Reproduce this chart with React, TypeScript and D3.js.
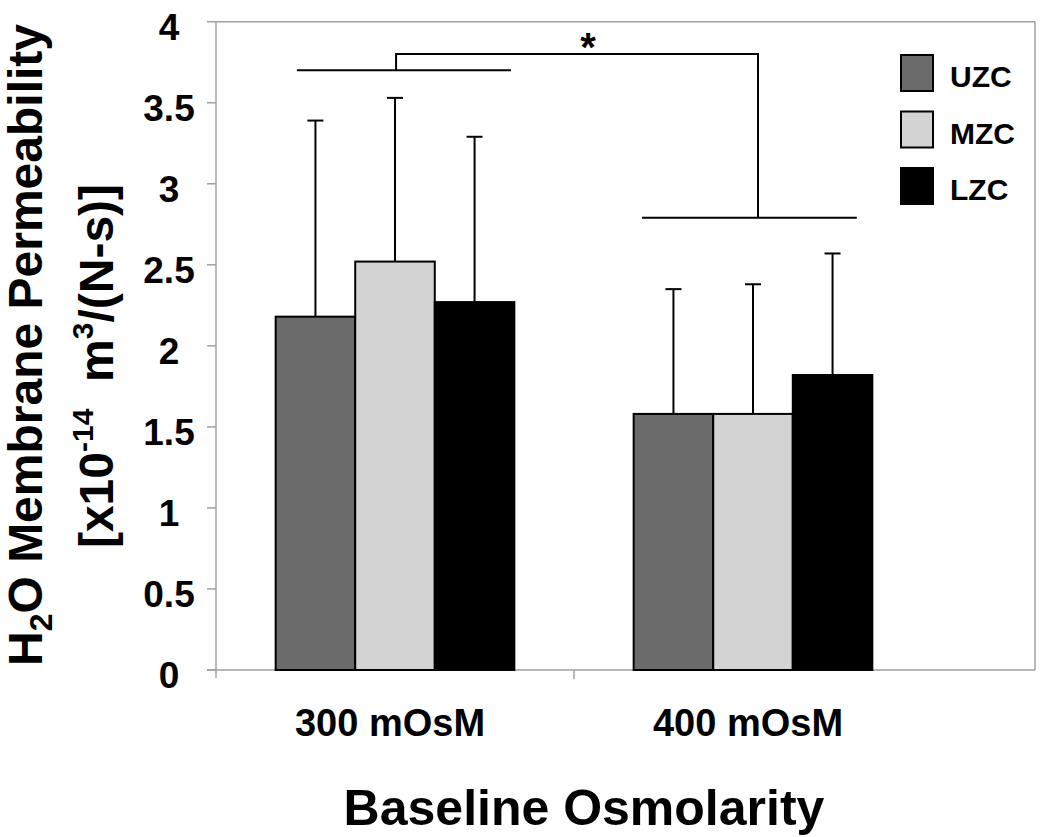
import React from 'react';
import * as d3 from 'd3';

// chart values
const categories = ['300 mOsM', '400 mOsM'];
const seriesNames = ['UZC', 'MZC', 'LZC'];
const seriesColors = ['#6b6b6b', '#d3d3d3', '#000000'];
const uzcMeans = [2.18, 1.58];
const mzcMeans = [2.52, 1.58];
const lzcMeans = [2.27, 1.82];
const uzcErr = [1.21, 0.77];
const mzcErr = [1.01, 0.8];
const lzcErr = [1.02, 0.75];
const yTicks = [0, 0.5, 1, 1.5, 2, 2.5, 3, 3.5, 4];
const yTickLabels = ['0', '0.5', '1', '1.5', '2', '2.5', '3', '3.5', '4'];
// significance bracket levels (data units)
const groupBarLevels = [3.7, 2.79];
const bracketTop = 3.8;

const means = [uzcMeans, mzcMeans, lzcMeans];
const errs = [uzcErr, mzcErr, lzcErr];

const W = 1050;
const H = 837;
const left = 216;
const right = 1035;
const top = 21.7;
const bottom = 670;
const font = '"Liberation Sans", Arial, sans-serif';
const axisGray = '#a0a0a0';

export default function App() {
  const y = d3.scaleLinear().domain([0, 4]).range([bottom, top]);
  const x0 = d3.scaleBand().domain(categories).range([left, 932]);
  const x1 = d3.scaleBand().domain(seriesNames).range([0, x0.bandwidth()]).paddingOuter(0.75);

  const bw = x0.bandwidth();
  // bracket x extents as fraction of each category band
  const lineSpan = [[0.226, 0.824], [0.19, 0.79]];
  const joinAt = [0.503, 0.514];
  const lx = (ci: number, f: number) => (x0(categories[ci]) as number) + f * bw;

  const bracketPath = d3.line()([
    [lx(0, joinAt[0]), y(groupBarLevels[0])],
    [lx(0, joinAt[0]), y(bracketTop)],
    [lx(1, joinAt[1]), y(bracketTop)],
    [lx(1, joinAt[1]), y(groupBarLevels[1])],
  ]) as string;

  return (
    <svg width={W} height={H} style={{ position: 'absolute', left: 0, top: 0, background: '#fff' }} fontFamily={font}>
      {/* frame */}
      <line x1={left} x2={right} y1={top} y2={top} stroke={axisGray} strokeWidth={1.5} />
      <line x1={right} x2={right} y1={top} y2={bottom} stroke={axisGray} strokeWidth={1.5} />
      <line x1={left} x2={left} y1={top} y2={bottom + 8} stroke={axisGray} strokeWidth={1.5} />
      <line x1={left - 9} x2={right} y1={bottom} y2={bottom} stroke={axisGray} strokeWidth={1.5} />
      <line x1={x0(categories[1])} x2={x0(categories[1])} y1={bottom} y2={bottom + 9} stroke={axisGray} strokeWidth={1.5} />

      {yTicks.map((t, i) => (
        <g key={t}>
          <line x1={left - 9} x2={left} y1={y(t)} y2={y(t)} stroke={axisGray} strokeWidth={1.5} />
          <text x={169} y={y(t) + 18} textAnchor="middle" fontSize={37} fontWeight="bold">
            {yTickLabels[i]}
          </text>
        </g>
      ))}

      {/* bars */}
      {categories.map((c, ci) => (
        <g key={c} transform={`translate(${x0(c)},0)`}>
          {seriesNames.map((s, si) => {
            const bx = x1(s) as number;
            const v = means[si][ci];
            const cx = bx + x1.bandwidth() / 2;
            const e = v + errs[si][ci];
            return (
              <g key={s}>
                <line x1={cx} x2={cx} y1={y(v)} y2={y(e)} stroke="#000" strokeWidth={2} />
                <line x1={cx - 8} x2={cx + 8} y1={y(e)} y2={y(e)} stroke="#000" strokeWidth={2} />
                <rect x={bx} y={y(v)} width={x1.bandwidth()} height={bottom - y(v)} fill={seriesColors[si]} stroke="#000" strokeWidth={2} />
              </g>
            );
          })}
        </g>
      ))}

      {/* significance */}
      {categories.map((c, ci) => (
        <line key={c} x1={lx(ci, lineSpan[ci][0])} x2={lx(ci, lineSpan[ci][1])} y1={y(groupBarLevels[ci])} y2={y(groupBarLevels[ci])} stroke="#000" strokeWidth={2} />
      ))}
      <path d={bracketPath} fill="none" stroke="#000" strokeWidth={2} />
      <text x={588} y={61} textAnchor="middle" fontSize={40} fontWeight="bold">*</text>

      {/* category labels */}
      {categories.map((c) => (
        <text key={c} x={(x0(c) as number) + bw / 2 - 5} y={736} textAnchor="middle" fontSize={38} fontWeight="bold">
          {c}
        </text>
      ))}
      <text x={584} y={825} textAnchor="middle" fontSize={50} fontWeight="bold">Baseline Osmolarity</text>

      {/* y title */}
      <text transform="translate(42,345) rotate(-90)" textAnchor="middle" fontSize={48} fontWeight="bold">
        H<tspan fontSize={32} dy={10}>2</tspan><tspan dy={-10}>O Membrane Permeability</tspan>
      </text>
      <text transform="translate(113,366) rotate(-90)" textAnchor="middle" fontSize={48} fontWeight="bold">
        [x10<tspan fontSize={30} dy={-20}>-14</tspan><tspan dy={20}>{'\u00a0 m'}</tspan><tspan fontSize={30} dy={-20}>3</tspan><tspan dy={20}>/(N-s)]</tspan>
      </text>

      {/* legend */}
      {seriesNames.map((s, si) => (
        <g key={s} transform={`translate(901,${55 + si * 56.5})`}>
          <rect width={32} height={36} fill={seriesColors[si]} stroke="#000" strokeWidth={2} />
          <text x={49} y={32} fontSize={30} fontWeight="bold">{s}</text>
        </g>
      ))}
    </svg>
  );
}
